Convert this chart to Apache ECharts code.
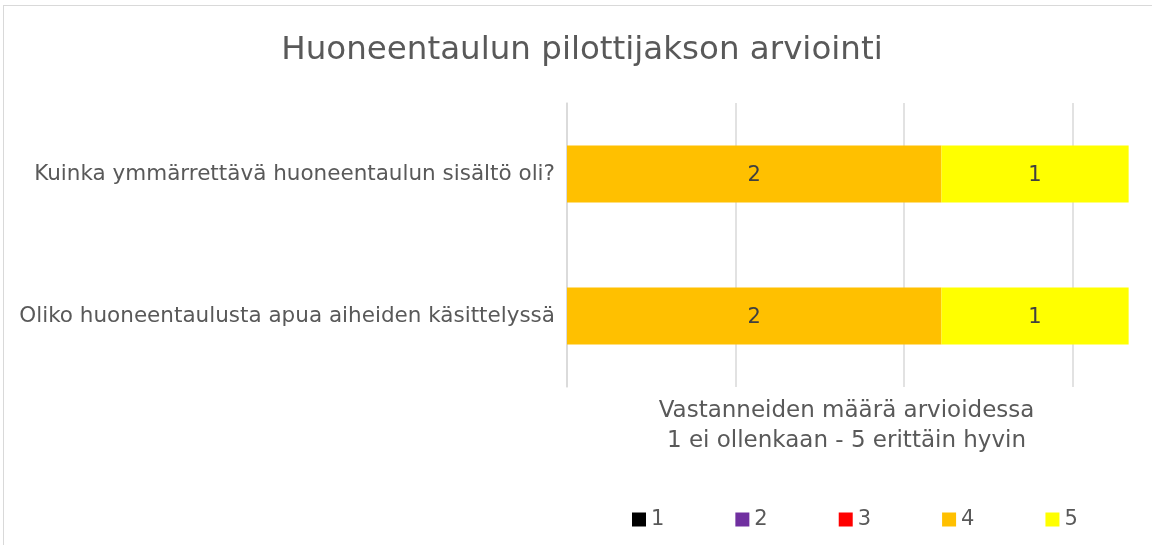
<!DOCTYPE html>
<html>
<head>
<meta charset="utf-8">
<script src="https://cdn.jsdelivr.net/npm/echarts@6/dist/echarts.min.js"></script>
<style>
  html, body { margin: 0; padding: 0; background: #fff; }
  #frame { position: absolute; left: 3px; top: 5px; width: 1160px; height: 560px; border: 1px solid #d9d9d9; }
  #main { position: absolute; left: 0; top: 0; width: 1152px; height: 545px; }
</style>
</head>
<body>
<div id="frame"></div>
<div id="main"></div>
<script>
// questions, bottom to top as the axis draws them
var categories = [
  'Oliko huoneentaulusta apua aiheiden käsittelyssä',
  'Kuinka ymmärrettävä huoneentaulun sisältö oli?'
];
var ratingNames = ['1', '2', '3', '4', '5'];
var ratingColors = ['#000000', '#7030A0', '#FF0000', '#FFC000', '#FFFF00'];
// answers per rating, one array per rating
var rating1 = [0, 0];
var rating2 = [0, 0];
var rating3 = [0, 0];
var rating4 = [2, 2];
var rating5 = [1, 1];
var ratingValues = [rating1, rating2, rating3, rating4, rating5];

var font = 'DejaVu Sans';
var chart = echarts.init(document.getElementById('main'));

var series = ratingNames.map(function (name, i) {
  return {
    name: name,
    type: 'bar',
    stack: 'total',
    barCategoryGap: '60%',
    itemStyle: { color: ratingColors[i] },
    label: {
      show: true,
      color: '#404040',
      fontFamily: font,
      fontSize: 21,
      offset: [0, 2],
      formatter: function (p) { return p.value ? p.value : ''; }
    },
    data: ratingValues[i]
  };
});

chart.setOption({
  animation: false,
  title: {
    text: 'Huoneentaulun pilottijakson arviointi',
    left: 577,
    textAlign: 'center',
    top: 29,
    textStyle: { color: '#595959', fontFamily: font, fontSize: 32.5, fontWeight: 'normal' }
  },
  legend: {
    left: 627,
    top: 504,
    itemWidth: 14,
    itemHeight: 14,
    itemGap: 71,
    icon: 'rect',
    textStyle: { color: '#595959', fontFamily: font, fontSize: 21 },
    data: ratingNames
  },
  grid: { left: 567, top: 103, width: 571, height: 284, containLabel: false },
  xAxis: {
    type: 'value',
    min: 0,
    max: 3.05,
    interval: 0.9,
    axisLabel: { show: false },
    axisTick: { show: false },
    axisLine: { show: false },
    splitLine: { show: true, showMaxLine: false, lineStyle: { color: '#d9d9d9', width: 1.5 } },
    name: 'Vastanneiden määrä arvioidessa\n1 ei ollenkaan - 5 erittäin hyvin',
    nameLocation: 'middle',
    nameGap: 9,
    nameTextStyle: { color: '#595959', fontFamily: font, fontSize: 23, lineHeight: 30, align: 'center', padding: [0, 12, 0, 0] }
  },
  yAxis: {
    type: 'category',
    data: categories,
    axisTick: { show: false },
    axisLine: { show: true, lineStyle: { color: '#d9d9d9', width: 1.5 } },
    axisLabel: { color: '#595959', fontFamily: font, fontSize: 21.5, margin: 12 }
  },
  series: series
});
</script>
</body>
</html>
